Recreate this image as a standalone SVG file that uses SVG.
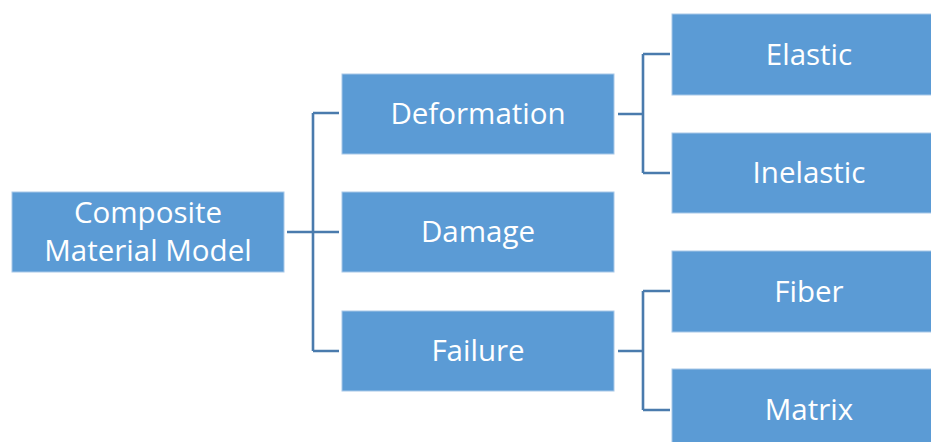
<svg xmlns="http://www.w3.org/2000/svg" width="931" height="442" viewBox="0 0 931 442">
<style>
.box{fill:#5b9bd5;stroke:#a8c8e8;stroke-width:1}
.lbl{fill:#ffffff;font-family:"Open Sans","Liberation Sans",sans-serif;font-size:29.5px;text-anchor:middle}
.conn{fill:none;stroke:#4a7bad;stroke-width:2.6}
</style>
<rect width="931" height="442" fill="#ffffff"/>
<g id="connectors">
<path class="conn" d="M287 232H313M313 113V351M313 113H339M313 232H339M313 351H339"/>
<path class="conn" d="M618 114H643M643 54V173M643 54H670M643 173H670"/>
<path class="conn" d="M618 351H643M643 291V410M643 291H670M643 410H670"/>
</g>
<g id="root">
<rect class="box" x="12" y="192" width="272" height="80"/>
<text class="lbl" x="148" y="223">Composite</text>
<text class="lbl" x="148" y="261">Material Model</text>
</g>
<g id="deformation">
<rect class="box" x="342" y="74" width="272" height="80"/>
<text class="lbl" x="478" y="124">Deformation</text>
</g>
<g id="damage">
<rect class="box" x="342" y="192" width="272" height="80"/>
<text class="lbl" x="478" y="242">Damage</text>
</g>
<g id="failure">
<rect class="box" x="342" y="311" width="272" height="80"/>
<text class="lbl" x="478" y="361">Failure</text>
</g>
<g id="elastic">
<rect class="box" x="672" y="14" width="274" height="81"/>
<text class="lbl" x="809" y="65">Elastic</text>
</g>
<g id="inelastic">
<rect class="box" x="672" y="133" width="274" height="80"/>
<text class="lbl" x="809" y="183">Inelastic</text>
</g>
<g id="fiber">
<rect class="box" x="672" y="251" width="274" height="81"/>
<text class="lbl" x="809" y="302">Fiber</text>
</g>
<g id="matrix">
<rect class="box" x="672" y="369" width="274" height="81"/>
<text class="lbl" x="809" y="420">Matrix</text>
</g>
</svg>
